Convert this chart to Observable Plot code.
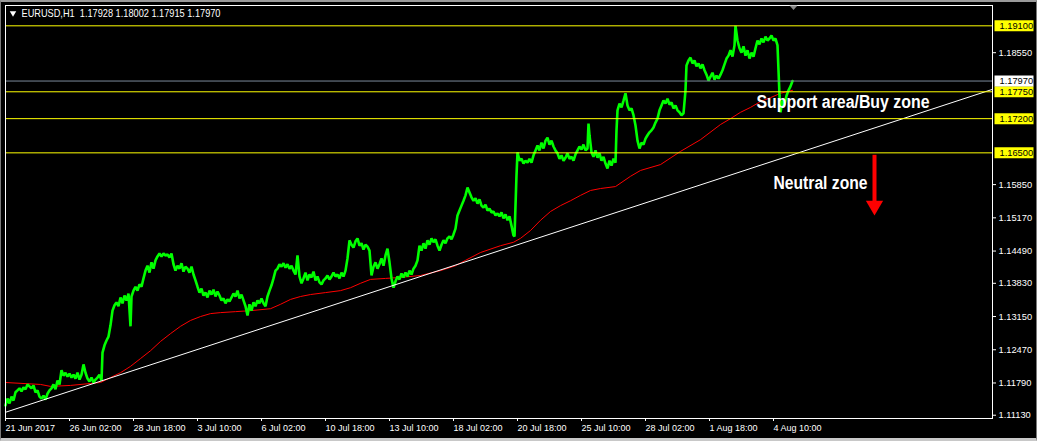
<!DOCTYPE html>
<html><head><meta charset="utf-8">
<script src="https://cdn.jsdelivr.net/npm/d3@7"></script>
<script src="https://cdn.jsdelivr.net/npm/@observablehq/plot@0.6"></script>
<style>
html,body{margin:0;padding:0;background:#000;}
#chart{width:1037px;height:441px;position:relative;overflow:hidden;background:#000;}
#chart svg{display:block}
#edge{position:absolute;left:0;top:0;width:1037px;height:441px;box-sizing:border-box;border-left:1px solid #7a7a7a;border-right:1px solid #7a7a7a;border-top:2px solid #9a9a9a;border-bottom:3px solid #c8c8c8;pointer-events:none}
</style></head><body><div id="chart"><div id="edge"></div></div>
<script>
// ---- data ----
const titleText = "EURUSD,H1\u00a0\u00a01.17928 1.18002 1.17915 1.17970";

const bars = [0,2,4,6,8,10,12,14,16,18,20,22,24,26,28,30,32,34,36,38,40,42,44,46,48,50,52,54,56,58,60,62,64,66,68,70,72,74,76,78,80,82,84,86,88,90,92,94,96,97,99,101,103,105,107,109,111,113,115,117,119,121,123,125,126,128,130,132,134,136,138,140,142,144,146,148,150,152,154,156,158,160,162,164,166,168,170,172,174,176,178,180,182,184,186,188,190,192,194,196,198,200,202,204,206,208,210,212,214,216,218,220,222,224,226,228,230,232,234,236,238,240,242,244,246,248,250,252,254,256,258,260,262,264,266,268,270,272,274,276,278,280,282,284,286,288,290,292,294,296,298,300,302,304,306,308,310,312,314,316,318,320,322,324,326,328,330,332,334,336,338,340,342,344,346,348,350,352,354,356,358,360,362,364,366,368,370,372,374,376,378,380,382,384,386,388,390,392,394,396,398,400,402,404,406,408,410,412,414,416,418,420,422,424,426,428,430,432,434,436,438,440,442,444,446,448,450,452,454,456,458,460,462,464,466,468,470,472,474,476,478,480,482,484,486,488,490,492,494,496,498,500,502,504,506,508,509,510,511,512,514,516,518,520,522,524,526,528,530,532,534,536,538,540,542,544,546,548,550,552,554,556,558,560,562,564,566,568,570,572,574,576,578,580,582,583,584,586,588,590,592,594,596,598,600,602,604,606,608,610,611,612,614,616,618,620,622,624,626,628,630,632,634,636,638,640,642,644,646,648,650,652,654,656,658,660,662,664,666,668,670,672,674,676,678,680,681,683,685,687,689,691,693,695,697,699,701,703,705,707,709,711,713,715,717,719,721,723,725,727,729,730,732,734,736,738,740,742,744,746,748,750,752,754,756,758,760,762,764,766,768,770,772,773,774,775,777,779,781,783,785,787];

const closes = [1.1133,1.1147,1.1137,1.1151,1.1143,1.1160,1.1164,1.1168,1.1162,1.1170,1.1166,1.1176,1.1172,1.1168,1.1174,1.1160,1.1164,1.1151,1.1147,1.1153,1.1145,1.1157,1.1164,1.1168,1.1176,1.1166,1.1184,1.1176,1.1205,1.1194,1.1200,1.1192,1.1198,1.1190,1.1196,1.1188,1.1200,1.1186,1.1196,1.1217,1.1200,1.1188,1.1182,1.1190,1.1180,1.1186,1.1190,1.1196,1.1184,1.1241,1.1256,1.1266,1.1274,1.1297,1.1327,1.1338,1.1344,1.1336,1.1354,1.1342,1.1358,1.1348,1.1362,1.1295,1.1356,1.1368,1.1376,1.1368,1.1381,1.1376,1.1393,1.1409,1.1419,1.1405,1.1426,1.1413,1.1430,1.1438,1.1444,1.1438,1.1444,1.1440,1.1442,1.1436,1.1444,1.1422,1.1409,1.1419,1.1413,1.1424,1.1407,1.1417,1.1413,1.1405,1.1417,1.1401,1.1389,1.1376,1.1364,1.1372,1.1358,1.1364,1.1354,1.1368,1.1360,1.1370,1.1356,1.1366,1.1358,1.1348,1.1352,1.1342,1.1350,1.1346,1.1354,1.1362,1.1356,1.1368,1.1352,1.1360,1.1348,1.1336,1.1317,1.1340,1.1327,1.1344,1.1336,1.1348,1.1342,1.1352,1.1342,1.1336,1.1356,1.1368,1.1379,1.1393,1.1409,1.1413,1.1422,1.1417,1.1424,1.1415,1.1422,1.1413,1.1419,1.1409,1.1401,1.1440,1.1397,1.1383,1.1393,1.1405,1.1389,1.1401,1.1395,1.1407,1.1389,1.1397,1.1385,1.1381,1.1389,1.1393,1.1399,1.1391,1.1397,1.1405,1.1397,1.1401,1.1393,1.1405,1.1397,1.1409,1.1434,1.1471,1.1462,1.1456,1.1469,1.1475,1.1460,1.1465,1.1452,1.1462,1.1458,1.1450,1.1399,1.1417,1.1426,1.1413,1.1422,1.1434,1.1419,1.1440,1.1454,1.1426,1.1393,1.1374,1.1387,1.1397,1.1391,1.1403,1.1395,1.1405,1.1397,1.1409,1.1401,1.1413,1.1419,1.1430,1.1460,1.1450,1.1465,1.1454,1.1471,1.1462,1.1475,1.1467,1.1473,1.1460,1.1450,1.1462,1.1471,1.1465,1.1475,1.1479,1.1473,1.1483,1.1495,1.1522,1.1532,1.1542,1.1552,1.1563,1.1579,1.1569,1.1559,1.1552,1.1557,1.1546,1.1555,1.1542,1.1538,1.1544,1.1532,1.1536,1.1528,1.1530,1.1522,1.1526,1.1520,1.1528,1.1516,1.1524,1.1512,1.1520,1.1501,1.1481,1.1479,1.1542,1.1604,1.1651,1.1634,1.1638,1.1628,1.1634,1.1630,1.1638,1.1630,1.1645,1.1655,1.1665,1.1655,1.1671,1.1659,1.1675,1.1681,1.1667,1.1675,1.1663,1.1655,1.1649,1.1638,1.1645,1.1634,1.1640,1.1649,1.1638,1.1642,1.1634,1.1647,1.1655,1.1663,1.1657,1.1667,1.1655,1.1659,1.1710,1.1686,1.1651,1.1642,1.1655,1.1640,1.1649,1.1634,1.1642,1.1628,1.1618,1.1634,1.1624,1.1638,1.1630,1.1696,1.1737,1.1751,1.1743,1.1757,1.1772,1.1747,1.1737,1.1741,1.1727,1.1706,1.1675,1.1659,1.1671,1.1667,1.1679,1.1686,1.1692,1.1696,1.1702,1.1712,1.1720,1.1737,1.1747,1.1757,1.1751,1.1761,1.1749,1.1753,1.1741,1.1747,1.1737,1.1733,1.1727,1.1731,1.1778,1.1829,1.1839,1.1845,1.1833,1.1839,1.1827,1.1833,1.1823,1.1831,1.1819,1.1810,1.1798,1.1806,1.1814,1.1800,1.1808,1.1802,1.1810,1.1819,1.1831,1.1843,1.1849,1.1860,1.1847,1.1870,1.1910,1.1880,1.1864,1.1855,1.1868,1.1849,1.1860,1.1843,1.1855,1.1847,1.1864,1.1880,1.1872,1.1884,1.1876,1.1888,1.1880,1.1884,1.1890,1.1880,1.1884,1.1870,1.1819,1.1767,1.1733,1.1757,1.1749,1.1767,1.1778,1.1786,1.1797];

const maBars = [0,35,45,65,85,95,105,115,125,135,145,155,165,175,185,195,205,215,230,245,265,275,285,295,305,320,335,345,355,365,380,395,415,435,450,460,475,495,508,515,525,535,545,555,565,575,585,595,610,625,635,655,675,695,715,725,735,745,755,765,775,787];
const maValues = [1.1180,1.1176,1.1172,1.1174,1.1178,1.1180,1.1190,1.1200,1.1213,1.1229,1.1245,1.1264,1.1280,1.1295,1.1307,1.1315,1.1321,1.1323,1.1325,1.1327,1.1331,1.1340,1.1350,1.1356,1.1360,1.1364,1.1368,1.1374,1.1383,1.1391,1.1393,1.1395,1.1399,1.1409,1.1419,1.1430,1.1446,1.1460,1.1467,1.1475,1.1491,1.1512,1.1530,1.1542,1.1552,1.1563,1.1573,1.1577,1.1581,1.1602,1.1614,1.1626,1.1653,1.1677,1.1708,1.1720,1.1733,1.1743,1.1755,1.1763,1.1772,1.1778];

const trendBars = [0, 987];
const trendPrices = [1.1119, 1.1780];

const levels = [1.19100, 1.17750, 1.17200, 1.16500];
const bidPrice = [1.17970];

const priceTicks = [1.11130, 1.11790, 1.12470, 1.13150, 1.13830, 1.14490, 1.15170, 1.15850, 1.18550];
const timeTickBars = [0, 64, 128, 192, 256, 320, 384, 448, 512, 576, 640, 704, 768];
const timeTickLabels = ["21 Jun 2017", "26 Jun 02:00", "28 Jun 18:00", "3 Jul 10:00", "6 Jul 02:00", "10 Jul 18:00", "13 Jul 10:00", "18 Jul 02:00", "20 Jul 18:00", "25 Jul 10:00", "28 Jul 02:00", "1 Aug 18:00", "4 Aug 10:00"];

const noteTexts = ["Support area/Buy zone", "Neutral zone"];
const noteBars = [751, 768];
const notePrices = [1.1753, 1.1588];

const arrowBar = [869];
const arrowFrom = [1.1645];
const arrowTo = [1.1550];
const arrowHead = [1.1542];

const shiftBar = [788];

// ---- styles (text widths to mimic the terminal's condensed fonts) ----
const noteWidths = {"Support area/Buy zone": 173, "Neutral zone": 94};
const titleWidth = 199;

// ---- build ----
const green = bars.map((b, i) => ({bar: b, price: closes[i]}));
const ma = maBars.map((b, i) => ({bar: b, price: maValues[i]}));
const trend = trendBars.map((b, i) => ({bar: b, price: trendPrices[i]}));
const notes = noteTexts.map((t, i) => ({text: t, bar: noteBars[i], price: notePrices[i]}));
const arrow = arrowBar.map((b, i) => ({bar: b, from: arrowFrom[i], to: arrowTo[i], head: arrowHead[i]}));

const boxSymbol = {draw(ctx) { ctx.rect(0, -5.5, 39, 11); }};
const shiftSymbol = {draw(ctx) { ctx.moveTo(-4, 0); ctx.lineTo(4, 0); ctx.lineTo(0, 4.5); ctx.closePath(); }};

const font = "'Liberation Sans', Arial, sans-serif";
const boldFont = "'Liberation Sans', Arial, sans-serif";

const chart = Plot.plot({
  width: 1037, height: 441,
  marginLeft: 5, marginRight: 45, marginTop: 5, marginBottom: 23,
  style: {background: "#000", color: "#fff", fontFamily: font, fontSize: "9px", overflow: "visible"},
  x: {domain: [0, 987], axis: null},
  y: {domain: [1.11063, 1.19516], axis: null},
  marks: [
    Plot.axisX({ticks: timeTickBars, tickFormat: d => timeTickLabels[timeTickBars.indexOf(d)], tickSize: 3, tickPadding: 3, textAnchor: "start", label: null, fill: "#fff", stroke: "#fff"}),
    Plot.axisY({anchor: "right", ticks: priceTicks, tickFormat: d => d.toFixed(5), tickSize: 3, tickPadding: 3, label: null, fill: "#fff", stroke: "#fff", fontSize: 9.3}),
    Plot.line(ma, {x: "bar", y: "price", stroke: "#ff0000", strokeWidth: 1}),
    Plot.line(green, {x: "bar", y: "price", stroke: "#00ff00", strokeWidth: 2.6, strokeLinejoin: "miter"}),
    Plot.line(trend, {x: "bar", y: "price", stroke: "#ffffff", strokeWidth: 1}),
    Plot.ruleY(levels, {y: d => d, stroke: "#ffff00", strokeWidth: 1}),
    Plot.ruleY(bidPrice, {y: d => d, stroke: "#7a8a9a", strokeWidth: 1}),
    Plot.frame({stroke: "#ffffff"}),
    Plot.dot(levels, {y: d => d, frameAnchor: "right", symbol: boxSymbol, fill: "#ffff00", stroke: null, dx: 2}),
    Plot.dot(bidPrice, {y: d => d, frameAnchor: "right", symbol: boxSymbol, fill: "#ffffff", stroke: null, dx: 2}),
    Plot.text(levels, {y: d => d, text: d => d.toFixed(5), frameAnchor: "right", textAnchor: "start", dx: 7, fill: "#000", fontSize: 9.3}),
    Plot.text(bidPrice, {y: d => d, text: d => d.toFixed(5), frameAnchor: "right", textAnchor: "start", dx: 7, fill: "#000", fontSize: 9.3}),
    Plot.ruleX(arrow, {x: "bar", y1: "from", y2: "to", stroke: "#ff0000", strokeWidth: 4}),
    Plot.dot(arrow, {x: "bar", y: "head", symbol: "triangle", rotate: 180, r: 6.4, fill: "#ff0000", stroke: null}),
    Plot.text(notes, {x: "bar", y: "price", text: "text", textAnchor: "start", fill: "#ffffff", fontSize: 17.5, fontWeight: "bold", fontFamily: boldFont}),
    Plot.dot(shiftBar, {x: d => d, frameAnchor: "top", symbol: shiftSymbol, fill: "#8a8a8a", stroke: null}),
    Plot.dot([titleText], {frameAnchor: "top-left", symbol: "triangle", rotate: 180, r: 2.4, fill: "#fff", stroke: null, dx: 7.5, dy: 7.5}),
    Plot.text([titleText], {frameAnchor: "top-left", text: d => d, textAnchor: "start", lineAnchor: "top", dx: 16, dy: 4, fill: "#fff", fontSize: 11})
  ]
});
document.getElementById("chart").prepend(chart);

// condense annotation and title text to the terminal's narrow widths
d3.select(chart).selectAll("text").each(function () {
  const t = this.textContent;
  if (noteWidths[t] !== undefined) {
    d3.select(this).attr("textLength", noteWidths[t]).attr("lengthAdjust", "spacingAndGlyphs");
  } else if (t === titleText) {
    d3.select(this).attr("textLength", titleWidth).attr("lengthAdjust", "spacingAndGlyphs");
  }
});
</script>
</body></html>
